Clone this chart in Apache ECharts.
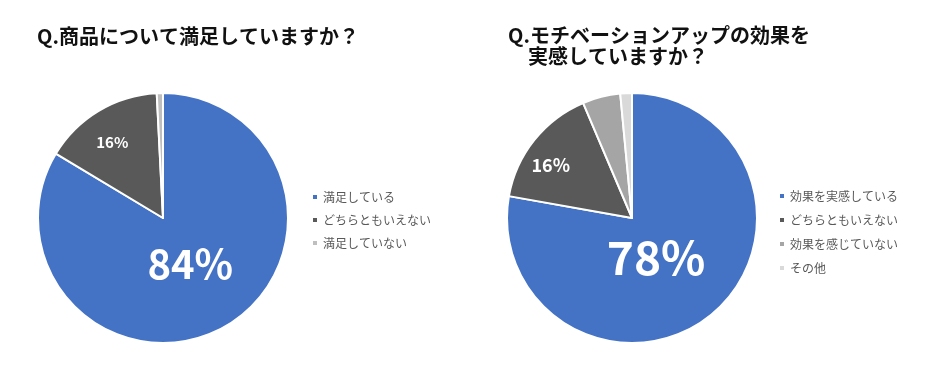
<!DOCTYPE html>
<html><head><meta charset="utf-8">
<script src="https://cdn.jsdelivr.net/npm/echarts@6/dist/echarts.min.js"></script>
<style>html,body{margin:0;padding:0;background:#fff}#c{width:939px;height:369px}</style>
</head><body><div id="c"></div>
<script>
const title1 = 'Q.商品について満足していますか？';
const title2 = 'Q.モチベーションアップの効果を\n　実感していますか？';
const cats1 = ['満足している', 'どちらともいえない', '満足していない'];
const vals1 = [83.6, 15.6, 0.8];
const cats2 = ['効果を実感している', 'どちらともいえない', '効果を感じていない', 'その他'];
const vals2 = [77.8, 15.8, 4.9, 1.5];
const colors1 = ['#4472C4', '#595959', '#BFBFBF'];
const colors2 = ['#4472C4', '#595959', '#A5A5A5', '#D9D9D9'];

const FONT = '"Noto Sans CJK JP", "Noto Sans", sans-serif';
const chart = echarts.init(document.getElementById('c'), null, {renderer: 'canvas'});

function mkData(cats, vals, colors, bigSize, smallSize) {
  return cats.map((n, i) => ({
    name: n, value: vals[i], itemStyle: {color: colors[i]},
    label: i === 0 ? {show: true, fontSize: bigSize} : (i === 1 ? {show: true, fontSize: smallSize} : {show: false})
  }));
}
const legendText = {fontSize: 12, color: '#595959', fontFamily: FONT};

chart.setOption({
  backgroundColor: '#fff',
  animation: false,
  title: [
    {text: title1, left: 32, top: 21, textStyle: {fontSize: 20, fontWeight: 'bold', color: '#111', fontFamily: FONT}},
    {text: title2, left: 503, top: 20, textStyle: {fontSize: 20, fontWeight: 'bold', color: '#111', fontFamily: FONT, lineHeight: 21}}
  ],
  legend: [
    {data: cats1, orient: 'vertical', left: 311, top: 191, padding: 0, icon: 'rect', itemWidth: 6, itemHeight: 6, itemGap: 11, textStyle: legendText, selectedMode: false},
    {data: cats2, orient: 'vertical', left: 778, top: 190, padding: 0, icon: 'rect', itemWidth: 6, itemHeight: 6, itemGap: 12, textStyle: legendText, selectedMode: false}
  ],
  series: [
    {
      type: 'pie', center: [163, 218], radius: [0, 125], startAngle: 90, clockwise: true,
      avoidLabelOverlap: false, silent: true,
      itemStyle: {borderColor: '#fff', borderWidth: 2},
      label: {position: 'inside', color: '#fff', fontWeight: 'bold', fontFamily: FONT,
        formatter: p => Math.round(p.value) + '%'},
      labelLayout: p => p.dataIndex === 0 ? {dx: -5, dy: -11} : {dx: -17, dy: -20},
      labelLine: {show: false},
      data: mkData(cats1, vals1, colors1, 40, 15)
    },
    {
      type: 'pie', center: [632, 218], radius: [0, 125], startAngle: 90, clockwise: true,
      avoidLabelOverlap: false, silent: true,
      itemStyle: {borderColor: '#fff', borderWidth: 2},
      label: {position: 'inside', color: '#fff', fontWeight: 'bold', fontFamily: FONT,
        formatter: p => Math.round(p.value) + '%'},
      labelLayout: p => p.dataIndex === 0 ? {dx: -18, dy: -11} : {dx: -30, dy: -12},
      labelLine: {show: false},
      data: mkData(cats2, vals2, colors2, 46, 18)
    }
  ]
});
</script></body></html>
